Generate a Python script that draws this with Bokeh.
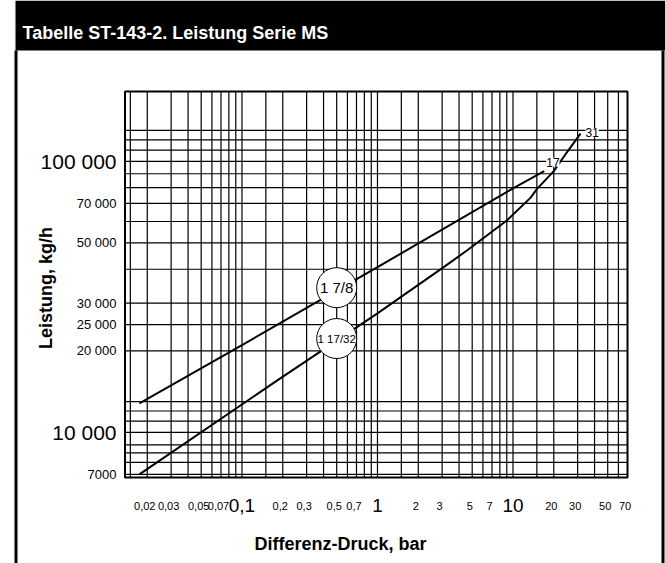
from bokeh.plotting import figure
from bokeh.models import Label, BoxAnnotation, Range1d
from bokeh.core.properties import value
from bokeh.embed import file_html
from bokeh.resources import INLINE
import math

# ---------------- data ----------------
title_text = "Tabelle ST-143-2. Leistung Serie MS"
x_title = "Differenz-Druck, bar"
y_title = "Leistung, kg/h"

curve_names = ["1 7/8", "1 17/32"]
end_labels = ["17", "31"]

# curve "1 7/8" (max 17 bar)
upper_x = [0.0175, 0.1, 1, 10, 17]
upper_y = [12800, 21000, 40700, 79500, 92000]
# curve "1 17/32" (max 31 bar)
lower_x = [0.0175, 0.18, 1, 3.1, 4.6, 9, 13.5, 15, 20, 25, 31.5]
lower_y = [7000, 15500, 27500, 40800, 47000, 60500, 73500, 79000, 92000, 108000, 126500]

# circled curve names
name_x = [0.5, 0.5]
name_y = [34200, 22200]

x_small_ticks = [0.02, 0.03, 0.05, 0.07, 0.2, 0.3, 0.5, 0.7, 2, 3, 5, 7, 20, 30, 50, 70]
x_small_labels = ["0,02", "0,03", "0,05", "0,07", "0,2", "0,3", "0,5", "0,7",
                  "2", "3", "5", "7", "20", "30", "50", "70"]
x_big_ticks = [0.1, 1, 10]
x_big_labels = ["0,1", "1", "10"]

y_small_ticks = [7000, 20000, 25000, 30000, 50000, 70000]
y_small_labels = ["7000", "20 000", "25 000", "30 000", "50 000", "70 000"]
y_big_ticks = [10000, 100000]
y_big_labels = ["10 000", "100 000"]

x_grid = [0.015, 0.02, 0.03, 0.04, 0.05, 0.06, 0.07, 0.08, 0.09, 0.1, 0.15,
          0.2, 0.3, 0.4, 0.5, 0.6, 0.7, 0.8, 0.9, 1, 1.5, 2, 3, 4, 5, 6, 7, 8, 9,
          10, 15, 20, 30, 40, 50, 60]
y_grid = [7000, 7750, 8400, 9000, 10000, 11000, 12000, 13000, 20000, 25000,
          30000, 40000, 50000, 60000, 70000, 80000, 90000, 100000, 110000,
          120000, 130000]

x_start, x_end = 0.0137, 70
y_start, y_end = 6820, 181000

# ---------------- layout (pixels) ----------------
W, H = 665, 563
PL, PR, PT, PB = 124.5, 627.0, 91.0, 477.0   # chart area inside the canvas

ppd_x = (PR - PL) / math.log10(x_end / x_start)
ppd_y = (PB - PT) / math.log10(y_end / y_start)
x_lo = x_start / 10 ** (PL / ppd_x)
x_hi = x_end * 10 ** ((W - PR) / ppd_x)
y_lo = y_start / 10 ** ((H - PB) / ppd_y)
y_hi = y_end * 10 ** (PT / ppd_y)

SANS = "Liberation Sans"

p = figure(width=W, height=H, x_axis_type="log", y_axis_type="log",
           x_range=Range1d(x_lo, x_hi), y_range=Range1d(y_lo, y_hi),
           x_axis_location=None, y_axis_location=None,
           output_backend="svg", toolbar_location=None,
           min_border=0, min_border_left=0, min_border_right=0,
           min_border_top=0, min_border_bottom=0)
p.grid.visible = False
p.title.visible = False
p.background_fill_color = "white"
p.border_fill_color = "white"
p.outline_line_color = None

# grid lines of the chart area
nx, ny = len(x_grid), len(y_grid)
p.segment(x0=x_grid, y0=[y_start] * nx, x1=x_grid, y1=[y_end] * nx,
          line_color="black", line_width=1.2)
p.segment(x0=[x_start] * ny, y0=y_grid, x1=[x_end] * ny, y1=y_grid,
          line_color="black", line_width=1.2)
p.quad(left=[x_start], right=[x_end], bottom=[y_start], top=[y_end],
       fill_color=None, line_color="black", line_width=2)

# curves
p.line(upper_x, upper_y, line_color="black", line_width=2)
p.line(lower_x, lower_y, line_color="black", line_width=2)

# circled names
p.scatter(name_x, name_y, size=40, marker="circle", fill_color="white",
          line_color="black", line_width=1)
p.text(x=[name_x[0]], y=[name_y[0]], text=[curve_names[0]], text_align="center",
       text_baseline="middle", text_font=value(SANS), text_font_size="15px",
       text_color="black")
p.text(x=[name_x[1]], y=[name_y[1]], text=[curve_names[1]], text_align="center",
       text_baseline="middle", text_font=value(SANS), text_font_size="11.5px",
       text_color="black")

# end labels
p.add_layout(Label(x=upper_x[-1], y=upper_y[-1], text=end_labels[0],
                   x_offset=2, y_offset=9, text_baseline="middle",
                   text_font=SANS, text_font_size="12px", text_color="black",
                   background_fill_color="white"))
p.add_layout(Label(x=lower_x[-1], y=lower_y[-1], text=end_labels[1],
                   x_offset=5, y_offset=1, text_baseline="middle",
                   text_font=SANS, text_font_size="12px", text_color="black",
                   background_fill_color="white"))

# x tick labels
for xv, t in zip(x_small_ticks, x_small_labels):
    p.add_layout(Label(x=xv, y=y_start, text=t, x_offset=-2.5, y_offset=-28,
                       text_align="center", text_baseline="alphabetic",
                       text_font=SANS, text_font_size="11px", text_color="black"))
for xv, t in zip(x_big_ticks, x_big_labels):
    p.add_layout(Label(x=xv, y=y_start, text=t, y_offset=-28,
                       text_align="center", text_baseline="alphabetic",
                       text_font=SANS, text_font_size="19px", text_color="black"))

# y tick labels
for yv, t in zip(y_small_ticks, y_small_labels):
    p.add_layout(Label(x=x_start, y=yv, text=t, x_offset=-8.5,
                       text_align="right", text_baseline="middle",
                       text_font=SANS, text_font_size="13px", text_color="black"))
for yv, t in zip(y_big_ticks, y_big_labels):
    p.add_layout(Label(x=x_start, y=yv, text=t, x_offset=-8.5,
                       text_align="right", text_baseline="middle",
                       text_font=SANS, text_font_size="21px", text_color="black"))

# axis titles (screen units: from frame left / bottom)
p.add_layout(Label(x=340, y=H - 543.3, x_units="screen", y_units="screen", text=x_title,
                   text_align="center", text_baseline="alphabetic",
                   text_font=SANS, text_font_style="bold", text_font_size="18px",
                   text_color="black"))
p.add_layout(Label(x=45, y=H - 287.5, x_units="screen", y_units="screen", text=y_title,
                   angle=90, angle_units="deg",
                   text_align="center", text_baseline="middle",
                   text_font=SANS, text_font_style="bold", text_font_size="18px",
                   text_color="black"))

# header bar and page borders
p.add_layout(BoxAnnotation(left=15, right=W, bottom=H - 50, top=H,
                           left_units="screen", right_units="screen",
                           top_units="screen", bottom_units="screen",
                           fill_color="black", fill_alpha=1, line_color=None))
p.add_layout(BoxAnnotation(left=14, right=17, bottom=0, top=H - 50,
                           left_units="screen", right_units="screen",
                           top_units="screen", bottom_units="screen",
                           fill_color="black", fill_alpha=1, line_color=None))
p.add_layout(BoxAnnotation(left=661, right=664, bottom=0, top=H - 50,
                           left_units="screen", right_units="screen",
                           top_units="screen", bottom_units="screen",
                           fill_color="black", fill_alpha=1, line_color=None))
p.add_layout(Label(x=22, y=H - 32.3, x_units="screen", y_units="screen", text=title_text,
                   text_align="left", text_baseline="alphabetic",
                   text_font=SANS, text_font_style="bold", text_font_size="18px",
                   text_color="white"))

open("out.html", "w").write(file_html(p, INLINE))
